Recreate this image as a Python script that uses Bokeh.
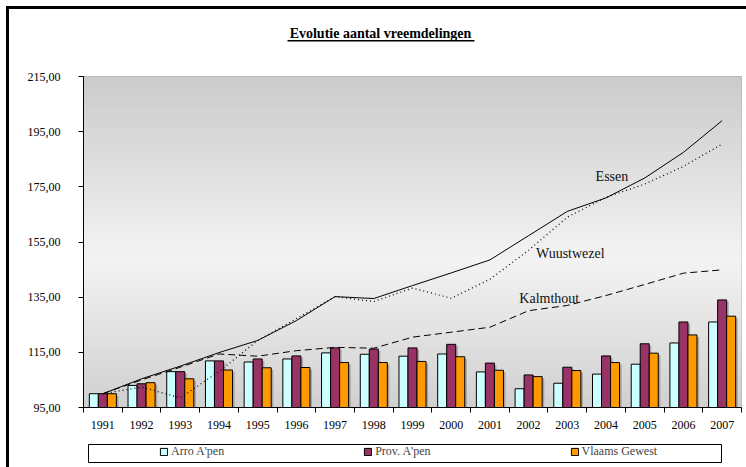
import numpy as np
from bokeh.plotting import figure
from bokeh.layouts import column
from bokeh.models import (ColumnDataSource, FixedTicker, CustomJSTickFormatter, Legend,
                          LegendItem, Range1d, Label, BoxAnnotation)
from bokeh.transform import dodge
from bokeh.core.properties import value
from bokeh.embed import file_html
from bokeh.resources import INLINE

# ---------------- data ----------------
years = list(range(1991, 2008))
arro = [100.0, 103.0, 108.0, 111.9, 111.5, 112.6, 114.8, 114.3, 113.6, 114.4,
        107.9, 101.8, 103.8, 107.1, 110.7, 118.4, 126.0]
prov = [100.0, 103.6, 108.0, 111.9, 112.6, 113.7, 116.6, 116.2, 116.6, 117.9,
        111.1, 106.8, 109.6, 113.7, 118.1, 126.0, 134.0]
vlaams = [100.0, 104.0, 105.4, 108.6, 109.4, 109.5, 111.3, 111.3, 111.7, 113.4,
          108.5, 106.2, 108.4, 111.3, 114.7, 121.3, 128.1]
essen = [100.0, 105.4, 110.0, 114.9, 119.3, 126.5, 135.2, 134.5, 139.2, 143.8,
         148.5, 157.3, 166.1, 171.0, 178.2, 187.5, 199.0]
wuustwezel = [100.0, 102.4, 98.5, 108.0, 119.3, 127.2, 135.2, 133.4, 138.3, 134.6,
              141.5, 152.0, 164.0, 171.2, 176.0, 182.4, 190.5]
kalmthout = [100.0, 105.0, 109.6, 114.4, 113.6, 115.6, 116.8, 116.5, 120.5, 122.3,
             124.1, 130.1, 132.0, 135.6, 139.6, 143.7, 144.9]
y_ticks = [95, 115, 135, 155, 175, 195, 215]
series_names = ["Essen", "Wuustwezel", "Kalmthout"]
legend_names = ["Arro A'pen", "Prov. A'pen", "Vlaams Gewest"]
title_text = "Evolutie aantal vreemdelingen"

FONT = "Liberation Serif"
BL, BR = 74, 5          # shared left/right borders so the frames line up
W = 737

src = ColumnDataSource(dict(
    year=years, arro=arro, prov=prov, vlaams=vlaams,
    essen=essen, wuustwezel=wuustwezel, kalmthout=kalmthout,
    arro_sh=[v - 0.7 for v in arro], prov_sh=[v - 0.7 for v in prov],
    vlaams_sh=[v - 0.7 for v in vlaams],
))

x0, x1 = years[0] - 0.5, years[-1] + 0.5
y0, y1 = y_ticks[0], y_ticks[-1]


def bare(fig):
    fig.xgrid.visible = False
    fig.ygrid.visible = False
    fig.outline_line_color = None
    fig.background_fill_color = "white"
    fig.border_fill_color = "white"


# ---------------- title ----------------
tf = figure(width=W, height=40, x_range=Range1d(0, 1), y_range=Range1d(0, 1),
            output_backend="svg", toolbar_location=None,
            x_axis_location=None, y_axis_location=None,
            min_border_left=BL, min_border_right=BR, min_border_top=0, min_border_bottom=0)
bare(tf)
tf.add_layout(Label(x=297, y=16, x_units="screen", y_units="screen", text=title_text,
                    text_font=FONT, text_font_style="bold", text_font_size="14px",
                    text_align="center", text_baseline="middle", text_color="black"))
tf.add_layout(BoxAnnotation(left=204, right=391, bottom=8, top=9.5,
                            left_units="screen", right_units="screen",
                            bottom_units="screen", top_units="screen",
                            fill_color="black", fill_alpha=1, line_alpha=0))

# ---------------- main chart ----------------
p = figure(width=W, height=388, x_range=Range1d(x0, x1), y_range=Range1d(y0, y1),
           output_backend="svg", toolbar_location=None,
           min_border_left=BL, min_border_right=BR, min_border_top=27, min_border_bottom=30)
bare(p)
p.outline_line_color = "#9a9a9a"
p.outline_line_width = 1

# gradient background
n = 90
edges = np.linspace(y0, y1, n + 1)
cols = []
for b, t in zip(edges[:-1], edges[1:]):
    f = ((b + t) / 2 - y0) / (y1 - y0)
    if f < 0.45:
        c = 208 + (243 - 208) * f / 0.45
    else:
        c = 243 - (243 - 203) * (f - 0.45) / 0.55
    c = int(round(c))
    cols.append("#%02x%02x%02x" % (c, c, c))
p.quad(left=x0, right=x1, bottom=edges[:-1], top=edges[1:], fill_color=cols,
       line_color=cols, line_width=1)

# bars
w = 0.233
bar_specs = [("arro", -w, "#CCFFFF"), ("prov", 0.0, "#993366"), ("vlaams", w, "#FF9900")]
for name, off, color in bar_specs:
    p.vbar(x=dodge("year", off + 0.055, range=p.x_range), top=name + "_sh", bottom=y0,
           width=w, source=src, fill_color="#808080", fill_alpha=0.55, line_color=None)
for name, off, color in bar_specs:
    p.vbar(x=dodge("year", off, range=p.x_range), top=name, bottom=y0,
           width=w, source=src, fill_color=color, line_color="black", line_width=1)

# lines
p.line("year", "essen", source=src, line_color="black", line_width=1)
p.line("year", "wuustwezel", source=src, line_color="black", line_width=1.2,
       line_dash="1 3")
p.line("year", "kalmthout", source=src, line_color="black", line_width=1,
       line_dash="7 4")

# series labels
lab = ColumnDataSource(dict(x=[2003.73, 2002.19, 2001.76], y=[178.7, 151.0, 134.4],
                            t=series_names))
p.text(x="x", y="y", text="t", source=lab, text_font=value(FONT), text_font_size="14px",
       text_color="#111111", text_align="left", text_baseline="middle")

# axes
p.yaxis.ticker = FixedTicker(ticks=y_ticks)
p.yaxis.formatter = CustomJSTickFormatter(code="return tick.toFixed(2).replace('.', ',');")
p.yaxis.major_tick_out = 5
p.yaxis.major_tick_in = 0
p.yaxis.minor_tick_line_color = None
p.yaxis.major_label_standoff = 18
p.yaxis.axis_line_color = "black"
p.yaxis.major_tick_line_color = "black"
p.yaxis.major_label_text_font = FONT
p.yaxis.major_label_text_font_size = "12px"
p.yaxis.major_label_text_color = "black"

p.xaxis.ticker = FixedTicker(ticks=years, minor_ticks=[y - 0.5 for y in years] + [x1])
p.xaxis.major_tick_line_color = None
p.xaxis.major_tick_out = 0
p.xaxis.major_tick_in = 0
p.xaxis.minor_tick_out = 5
p.xaxis.minor_tick_in = 0
p.xaxis.minor_tick_line_color = "black"
p.xaxis.axis_line_color = "black"
p.xaxis.major_label_standoff = 8
p.xaxis.major_label_text_font = FONT
p.xaxis.major_label_text_font_size = "12px"
p.xaxis.major_label_text_color = "black"

# ---------------- legend ----------------
lg = figure(width=W, height=30, x_range=Range1d(0, 1), y_range=Range1d(0, 1),
            output_backend="svg", toolbar_location=None,
            x_axis_location=None, y_axis_location=None,
            min_border_left=BL, min_border_right=BR, min_border_top=6, min_border_bottom=4)
bare(lg)
lg.add_layout(BoxAnnotation(left=5, right=638, bottom=1, top=19,
                            left_units="screen", right_units="screen",
                            bottom_units="screen", top_units="screen",
                            fill_alpha=0, line_color="black", line_width=1, line_alpha=1))
items = []
for (name, off, color), lname in zip(bar_specs, legend_names):
    r = lg.vbar(x="year", top=name, bottom=y0, width=w, source=src, fill_color=color,
                line_color="black", line_width=1, visible=False)
    items.append(LegendItem(label=lname, renderers=[r]))
legend = Legend(items=items, orientation="horizontal", location=(73, 1),
                glyph_width=9, glyph_height=9, label_standoff=3, spacing=139,
                padding=3, margin=0, label_height=12,
                border_line_alpha=0, background_fill_alpha=0,
                inactive_fill_alpha=0,
                label_text_font=FONT, label_text_font_size="12px")
lg.add_layout(legend)

layout = column(tf, p, lg,
                styles={"margin-left": "6px", "margin-top": "6px",
                        "border-left": "3px solid black", "border-top": "3px solid black"})

open("out.html", "w").write(file_html(layout, INLINE))
